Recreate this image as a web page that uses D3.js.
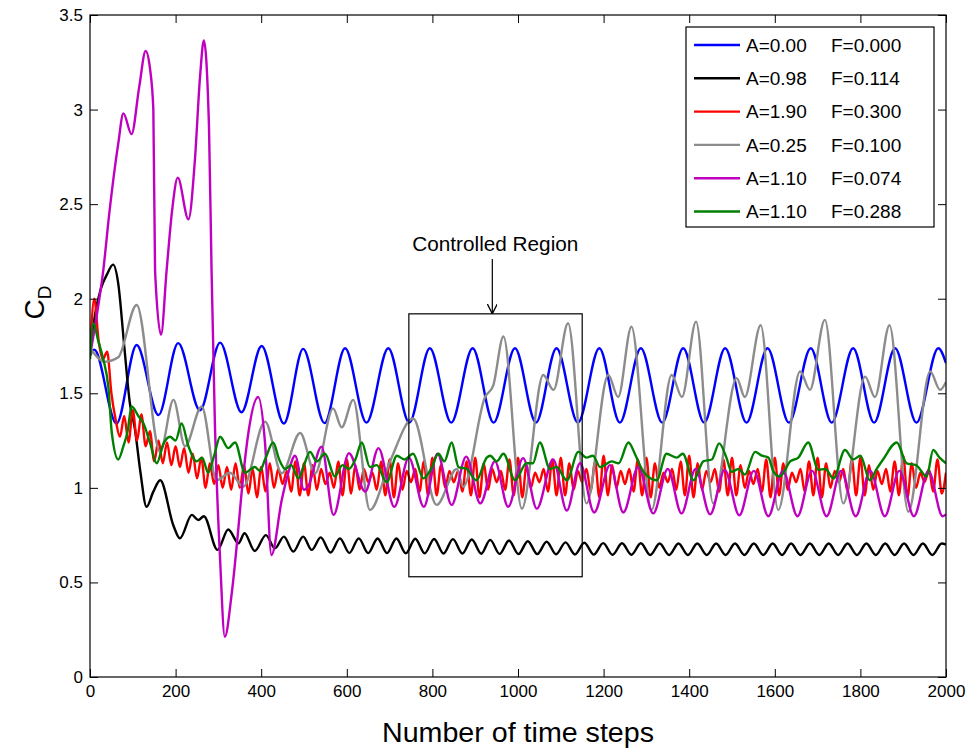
<!DOCTYPE html>
<html>
<head>
<meta charset="utf-8">
<script src="https://cdn.jsdelivr.net/npm/d3@7"></script>
<style>
  body { margin: 0; background: #fff; }
  text { font-family: "Liberation Sans", Arial, Helvetica, sans-serif; }
</style>
</head>
<body>
<svg id="chart" width="975" height="751"></svg>
<script>
// Axis ticks
const xTicks = [0, 200, 400, 600, 800, 1000, 1200, 1400, 1600, 1800, 2000];
const yTicks = [0, 0.5, 1, 1.5, 2, 2.5, 3, 3.5];
const yTickLabels = ["0", "0.5", "1", "1.5", "2", "2.5", "3", "3.5"];

// Legend entries (amplitude A, frequency F)
const seriesLabels = [
  ["A=0.00", "F=0.000"],
  ["A=0.98", "F=0.114"],
  ["A=1.90", "F=0.300"],
  ["A=0.25", "F=0.100"],
  ["A=1.10", "F=0.074"],
  ["A=1.10", "F=0.288"]
];
const seriesColors = ["#0000ff", "#000000", "#ff0000", "#8c8c8c", "#c000c0", "#008000"];

// Drag coefficient histories: [time step, C_D] at turning points
const blueCD = [
  [0,1.70],[10,1.73],[62,1.34],[109,1.755],[160,1.385],[206,1.765],[257,1.41],[304,1.768],
  [354,1.40],[401,1.75],[453,1.34],[498,1.735],[548,1.342],[596,1.738],[646,1.345],[697,1.738],
  [746,1.345],[794,1.738],[844,1.345],[894,1.738],[943,1.345],[993,1.738],[1042,1.345],[1090,1.738],
  [1140,1.345],[1190,1.738],[1238,1.345],[1287,1.738],[1337,1.345],[1386,1.738],[1435,1.345],
  [1484,1.738],[1534,1.345],[1583,1.738],[1633,1.345],[1684,1.738],[1733,1.345],[1783,1.738],
  [1832,1.345],[1881,1.738],[1931,1.345],[1982,1.738],[2000,1.66]
];

const blackCD = [
  [0,1.70],[12,1.92],[25,2.05],[40,2.13],[54,2.18],[66,2.08],[80,1.75],[93,1.45],[105,1.31],
  [118,1.08],[132,0.90],[148,0.98],[164,1.04],[195,0.80],[210,0.733],[238,0.857],[253,0.83],
  [266,0.85],[298,0.672],[323,0.78],[347,0.707],[361,0.76],[385,0.666],[411,0.75],[432,0.68],
  [453,0.742],[475,0.663],[498,0.742],[518,0.672],[539,0.738],[562,0.658],[584,0.733],[606,0.656],
  [628,0.733],[650,0.655],[672,0.732],[694,0.655],[716,0.732],[738,0.654],[760,0.731],[782,0.654],
  [804,0.730],[826,0.653],[848,0.729],[870,0.653],[892,0.727],[914,0.652],[935,0.725],[957,0.651],
  [979,0.722],[1001,0.650],[1023,0.718],[1045,0.650],[1067,0.715],[1089,0.649],[1111,0.712],
  [1133,0.648],[1155,0.710],[1177,0.647],[1199,0.708],[1221,0.646],[1243,0.707],[1265,0.646],
  [1287,0.707],[1309,0.645],[1331,0.706],[1353,0.645],[1375,0.706],[1397,0.645],[1419,0.706],
  [1441,0.645],[1463,0.706],[1485,0.645],[1507,0.706],[1529,0.645],[1551,0.706],[1573,0.645],
  [1595,0.706],[1617,0.645],[1638,0.706],[1660,0.645],[1682,0.706],[1704,0.645],[1726,0.706],
  [1748,0.645],[1770,0.706],[1792,0.645],[1814,0.706],[1836,0.645],[1858,0.706],[1880,0.645],
  [1902,0.706],[1924,0.645],[1946,0.706],[1968,0.645],[1990,0.706],[2000,0.70]
];

// Red history sampled every 10 steps (0 ... 2000)
const redStep = 10;
const redCD = [
  1.70,2.00,1.78,1.68,1.72,1.50,1.36,1.27,1.38,1.24,
  1.41,1.25,1.39,1.22,1.30,1.14,1.25,1.13,1.24,1.12,
  1.22,1.11,1.21,1.08,1.18,1.05,1.16,1.00,1.13,1.02,
  1.12,1.00,1.11,0.99,1.13,1.00,1.12,0.97,1.10,0.95,
  1.11,0.98,1.13,1.00,1.10,1.02,1.09,0.98,1.14,0.96,
  1.13,0.96,1.12,0.99,1.10,1.02,1.08,1.00,1.14,0.96,
  1.15,0.97,1.12,0.99,1.10,1.03,1.08,0.99,1.14,0.96,
  1.15,0.95,1.13,0.99,1.09,1.03,1.10,0.98,1.14,0.96,
  1.16,0.96,1.12,1.00,1.09,1.03,1.09,0.98,1.14,0.96,
  1.16,0.95,1.13,0.99,1.10,1.03,1.09,0.99,1.15,0.96,
  1.16,0.95,1.12,1.00,1.08,1.03,1.10,0.98,1.15,0.96,
  1.16,0.96,1.13,0.99,1.09,1.03,1.10,0.98,1.14,0.95,
  1.17,0.96,1.12,1.00,1.09,1.02,1.10,0.98,1.15,0.96,
  1.16,0.95,1.13,1.00,1.08,1.03,1.10,0.99,1.14,0.96,
  1.17,0.95,1.13,0.99,1.09,1.03,1.10,0.98,1.15,0.96,
  1.16,0.96,1.12,1.00,1.09,1.02,1.10,0.98,1.15,0.95,
  1.16,0.96,1.13,0.99,1.08,1.03,1.10,0.98,1.14,0.96,
  1.16,0.95,1.13,1.00,1.09,1.03,1.10,0.98,1.15,0.96,
  1.16,0.96,1.12,0.99,1.09,1.02,1.10,0.98,1.14,0.96,
  1.17,0.95,1.13,1.00,1.08,1.03,1.10,0.98,1.15,0.97,
  1.08
];

const grayCD = [
  [0,1.74],[35,1.667],[66,1.69],[109,1.967],[164,1.19],[195,1.465],[222,1.22],[261,1.43],
  [296,1.04],[327,1.08],[358,1.006],[409,1.35],[448,1.077],[491,1.29],[526,1.077],[568,1.42],
  [588,1.32],[615,1.465],[654,0.883],[701,1.14],[755,1.367],[810,0.91],[857,1.10],[872,1.006],
  [923,1.48],[942,1.54],[966,1.80],[1009,0.89],[1059,1.597],[1083,1.518],[1117,1.87],
  [1160,0.918],[1211,1.597],[1234,1.48],[1265,1.852],[1312,0.883],[1359,1.597],[1383,1.48],
  [1416,1.879],[1456,0.918],[1511,1.58],[1530,1.48],[1567,1.86],[1608,0.883],[1659,1.615],
  [1682,1.518],[1717,1.888],[1760,0.918],[1811,1.588],[1834,1.48],[1868,1.86],[1912,0.874],
  [1963,1.615],[1986,1.518],[2000,1.56]
];

const magentaCD = [
  [0,1.70],[15,1.90],[31,2.15],[45,2.45],[66,2.82],[78,2.98],[97,2.87],[115,3.12],[130,3.31],
  [140,3.22],[148,3.00],[152,2.15],[166,1.81],[179,2.15],[192,2.47],[205,2.64],[230,2.42],
  [245,2.73],[257,3.17],[266,3.365],[278,2.91],[284,2.15],[292,1.32],[304,0.62],[315,0.213],
  [331,0.44],[347,0.795],[354,0.97],[370,1.29],[393,1.48],[409,1.235],[424,0.645],[448,0.936],
  [463,1.077],[479,1.17],[500,0.99],[510,1.01],[541,1.218],[569,0.857],[605,1.183],[643,0.98],
  [674,1.21],[711,0.90],[745,1.16],[780,0.90],[812,1.18],[845,0.91],[879,1.165],[912,0.918],
  [946,1.14],[977,0.90],[1012,1.157],[1044,0.89],[1082,1.15],[1114,0.88],[1145,1.13],
  [1178,0.87],[1215,1.12],[1246,0.87],[1281,1.11],[1316,0.865],[1350,1.10],[1382,0.865],
  [1415,1.10],[1449,0.86],[1483,1.095],[1517,0.855],[1551,1.09],[1585,0.85],[1619,1.09],
  [1653,0.85],[1687,1.09],[1721,0.85],[1755,1.09],[1789,0.85],[1823,1.09],[1857,0.85],
  [1891,1.09],[1925,0.85],[1959,1.09],[1992,0.85],[2000,0.86]
];

const greenCD = [
  [0,1.68],[8,1.87],[19,1.78],[31,1.68],[43,1.53],[51,1.29],[66,1.15],[78,1.22],[88,1.30],
  [97,1.43],[113,1.38],[125,1.34],[140,1.24],[156,1.13],[171,1.23],[187,1.27],[200,1.25],
  [214,1.34],[230,1.22],[249,1.14],[262,1.16],[276,1.08],[290,1.17],[304,1.27],[323,1.21],
  [339,1.24],[362,1.08],[385,1.11],[397,1.09],[409,1.15],[428,1.24],[442,1.15],[456,1.10],
  [470,1.12],[487,1.05],[500,1.12],[514,1.19],[530,1.14],[549,1.18],[572,1.06],[590,1.12],
  [605,1.10],[620,1.15],[635,1.24],[654,1.11],[670,1.12],[693,1.03],[717,1.17],[735,1.15],
  [755,1.18],[779,1.05],[797,1.10],[814,1.18],[828,1.14],[845,1.24],[861,1.11],[880,1.10],
  [903,1.04],[927,1.16],[935,1.17],[950,1.14],[966,1.18],[993,1.04],[1020,1.13],[1035,1.13],
  [1051,1.24],[1075,1.10],[1090,1.11],[1114,1.04],[1141,1.19],[1160,1.16],[1175,1.17],
  [1192,1.11],[1219,1.14],[1235,1.13],[1258,1.24],[1275,1.17],[1293,1.085],[1324,1.04],
  [1347,1.18],[1371,1.16],[1385,1.18],[1410,1.04],[1433,1.14],[1453,1.15],[1470,1.235],
  [1487,1.16],[1499,1.085],[1515,1.10],[1530,1.07],[1554,1.19],[1570,1.17],[1585,1.16],
  [1597,1.085],[1612,1.06],[1636,1.14],[1655,1.16],[1678,1.24],[1702,1.095],[1718,1.10],
  [1737,1.05],[1764,1.20],[1783,1.15],[1800,1.17],[1822,1.04],[1838,1.10],[1853,1.15],
  [1885,1.24],[1908,1.13],[1930,1.12],[1955,1.06],[1970,1.20],[1985,1.16],[2000,1.13]
];

// Controlled-region annotation (time steps / C_D)
const regionBox = { x0: 745, x1: 1150, y0: 0.53, y1: 1.92 };
const regionArrowStep = 940;
const regionLabel = "Controlled Region";

// ---------------------------------------------------------------
const svg = d3.select("#chart");
const W = 975, H = 751;
const margin = { left: 90, right: 29, top: 15, bottom: 74 };
const x = d3.scaleLinear().domain([0, 2000]).range([margin.left, W - margin.right]);
const y = d3.scaleLinear().domain([0, 3.5]).range([H - margin.bottom, margin.top]);

svg.append("rect").attr("width", W).attr("height", H).attr("fill", "#fff");

svg.append("defs").append("clipPath").attr("id", "plotClip")
  .append("rect")
  .attr("x", x(0)).attr("y", y(3.5))
  .attr("width", x(2000) - x(0)).attr("height", y(0) - y(3.5));

const redSeries = redCD.map((v, i) => [i * redStep, v]);
const allSeries = [blueCD, blackCD, redSeries, grayCD, magentaCD, greenCD];

const line = d3.line()
  .x(d => x(d[0]))
  .y(d => y(d[1]))
  .curve(d3.curveMonotoneX);

const plot = svg.append("g").attr("clip-path", "url(#plotClip)");
allSeries.forEach((s, i) => {
  plot.append("path")
    .datum(s)
    .attr("fill", "none")
    .attr("stroke", seriesColors[i])
    .attr("stroke-width", 2.4)
    .attr("stroke-linejoin", "round")
    .attr("d", line);
});

// Axes with inward ticks on all four sides
const tickLen = 8;
const fontSize = 17;

const xAxis = svg.append("g")
  .attr("transform", `translate(0,${y(0)})`)
  .call(d3.axisBottom(x).tickValues(xTicks).tickFormat(d3.format("d"))
    .tickSizeInner(-tickLen).tickSizeOuter(0).tickPadding(8));
const xTop = svg.append("g")
  .attr("transform", `translate(0,${y(3.5)})`)
  .call(d3.axisTop(x).tickValues(xTicks).tickFormat("")
    .tickSizeInner(-tickLen).tickSizeOuter(0));
const yAxis = svg.append("g")
  .attr("transform", `translate(${x(0)},0)`)
  .call(d3.axisLeft(y).tickValues(yTicks).tickFormat((d, i) => yTickLabels[i])
    .tickSizeInner(-tickLen).tickSizeOuter(0).tickPadding(7));
const yRight = svg.append("g")
  .attr("transform", `translate(${x(2000)},0)`)
  .call(d3.axisRight(y).tickValues(yTicks).tickFormat("")
    .tickSizeInner(-tickLen).tickSizeOuter(0));

[xAxis, xTop, yAxis, yRight].forEach(g => {
  g.select(".domain").remove();
  g.selectAll(".tick line").attr("stroke", "#000").attr("stroke-width", 1);
  g.selectAll("text").attr("fill", "#000")
    .style("font-family", '"Liberation Sans", Arial, sans-serif')
    .style("font-size", fontSize + "px");
});

// Plot frame
svg.append("rect")
  .attr("x", x(0)).attr("y", y(3.5))
  .attr("width", x(2000) - x(0)).attr("height", y(0) - y(3.5))
  .attr("fill", "none").attr("stroke", "#000").attr("stroke-width", 1.2);

// Axis titles
svg.append("text")
  .attr("x", (x(0) + x(2000)) / 2)
  .attr("y", 742)
  .attr("text-anchor", "middle")
  .style("font-size", "27px")
  .attr("textLength", 272)
  .attr("lengthAdjust", "spacingAndGlyphs")
  .text("Number of time steps");

const yTitle = svg.append("text")
  .attr("transform", `translate(44,${y(1.98)}) rotate(-90)`)
  .attr("text-anchor", "middle")
  .style("font-size", "28px");
yTitle.append("tspan").text("C");
yTitle.append("tspan").attr("dy", 7).style("font-size", "19px").text("D");

// Controlled region box, arrow and label
svg.append("rect")
  .attr("x", x(regionBox.x0)).attr("y", y(regionBox.y1))
  .attr("width", x(regionBox.x1) - x(regionBox.x0))
  .attr("height", y(regionBox.y0) - y(regionBox.y1))
  .attr("fill", "none").attr("stroke", "#000").attr("stroke-width", 1.2);

svg.select("defs").append("marker")
  .attr("id", "arrowHead")
  .attr("viewBox", "0 0 10 10")
  .attr("refX", 10).attr("refY", 5)
  .attr("markerWidth", 10).attr("markerHeight", 10)
  .attr("markerUnits", "userSpaceOnUse")
  .attr("orient", "auto")
  .append("path")
  .attr("d", "M0,0 L10,5 L0,10")
  .attr("fill", "none").attr("stroke", "#000").attr("stroke-width", 1.3);

svg.append("line")
  .attr("x1", x(regionArrowStep)).attr("x2", x(regionArrowStep))
  .attr("y1", 259).attr("y2", y(regionBox.y1))
  .attr("stroke", "#000").attr("stroke-width", 1.2)
  .attr("marker-end", "url(#arrowHead)");

svg.append("text")
  .attr("x", x(regionArrowStep) + 3)
  .attr("y", 251)
  .attr("text-anchor", "middle")
  .style("font-size", "20px")
  .attr("textLength", 166)
  .attr("lengthAdjust", "spacingAndGlyphs")
  .text(regionLabel);

// Legend
const lg = svg.append("g").attr("transform", "translate(686,27)");
lg.append("rect").attr("width", 248).attr("height", 200)
  .attr("fill", "#fff").attr("stroke", "#000").attr("stroke-width", 1.2);
seriesLabels.forEach((lab, i) => {
  const cy = 18 + i * 33.3;
  lg.append("line").attr("x1", 8).attr("x2", 54).attr("y1", cy).attr("y2", cy)
    .attr("stroke", seriesColors[i]).attr("stroke-width", 2.4);
  lg.append("text").attr("x", 60).attr("y", cy).attr("dy", "0.36em")
    .style("font-size", "19px").text(lab[0]);
  lg.append("text").attr("x", 145).attr("y", cy).attr("dy", "0.36em")
    .style("font-size", "19px").text(lab[1]);
});
</script>
</body>
</html>
